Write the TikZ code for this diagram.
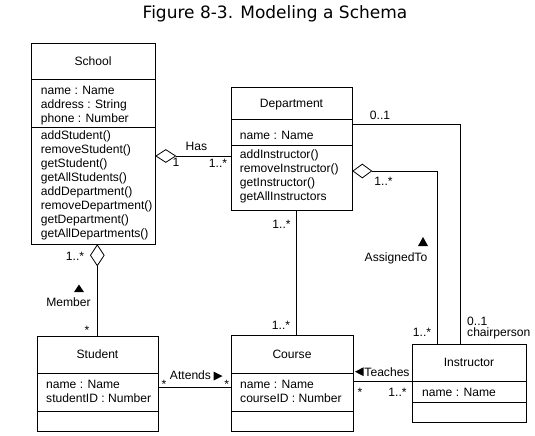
\documentclass[tikz,border=0pt]{standalone}
\usepackage{fontspec}
\setmainfont{Liberation Sans}
\newfontfamily\titlefont{DejaVu Sans}
\usetikzlibrary{shapes.geometric}
\tikzset{
  classbox/.style={draw,line width=0.8pt,inner sep=0pt},
  lbl/.style={inner sep=0pt,font=\fontsize{12.1}{14}\selectfont,text height=8.7pt,text depth=0pt},
  members/.style={inner sep=0pt,anchor=north west,align=left,font=\fontsize{12.1}{14}\selectfont},
  aggr/.style={draw,diamond,fill=white,line width=0.8pt,inner sep=0pt},
  assoc/.style={line width=0.8pt},
}
\begin{document}
\begin{tikzpicture}[x=1pt,y=-1pt]
\useasboundingbox (0,0) rectangle (535,436);
\node[anchor=base,inner sep=0pt,font=\titlefont\fontsize{17}{20}\selectfont](title)at(275,19){Figure 8-3. Modeling a Schema};
% classes
\node[classbox,minimum width=124,minimum height=201](school)at(93,143.5){};
\draw[line width=0.8pt](31,79)--(155,79) (31,127)--(155,127);
\node[lbl](schoolname)at(93,61){School};
\node[members](schoolattr)at(40.7,84.2){\strut name : Name\\address : String\\phone : Number};
\node[members](schoolops)at(40.7,129.5){\strut addStudent()\\removeStudent()\\getStudent()\\getAllStudents()\\addDepartment()\\removeDepartment()\\getDepartment()\\getAllDepartments()};
\node[classbox,minimum width=121,minimum height=123](dept)at(291.5,148.5){};
\draw[line width=0.8pt](231,119.5)--(352,119.5) (231,145)--(352,145);
\node[lbl](deptname)at(291.5,103.5){Department};
\node[members](deptattr)at(239.7,129.2){\strut name : Name};
\node[members](deptops)at(239.7,148.5){\strut addInstructor()\\removeInstructor()\\getInstructor()\\getAllInstructors};
\node[classbox,minimum width=121,minimum height=95](student)at(97.5,383.5){};
\draw[line width=0.8pt](37,373)--(158,373) (37,411)--(158,411);
\node[lbl](studentname)at(97.5,354.5){Student};
\node[members](studentattr)at(46,378.7){\strut name : Name\\studentID : Number};
\node[classbox,minimum width=122,minimum height=96](course)at(292,383){};
\draw[line width=0.8pt](231,373)--(353,373) (231,411)--(353,411);
\node[lbl](coursename)at(292,354.5){Course};
\node[members](courseattr)at(240,378.2){\strut name : Name\\courseID : Number};
\node[classbox,minimum width=114,minimum height=78](instr)at(469,383){};
\draw[line width=0.8pt](412,381)--(526,381) (412,402)--(526,402);
\node[lbl](instrname)at(469,362.5){Instructor};
\node[members](instrattr)at(422,386.5){\strut name : Name};
% associations
\node[aggr,minimum width=20,minimum height=13,anchor=west](hasdia)at(school.east|-0,156){};
\draw[assoc](hasdia.east)--(hasdia.east-|dept.west);
\node[aggr,minimum width=14,minimum height=21,anchor=north](memdia)at(school.south-|97.3,0){};
\draw[assoc](memdia.south)--(memdia.south|-student.north);
\draw[assoc](student.east|-0,387)--(course.west|-0,387);
\draw[assoc](dept.south-|296.5,0)--(course.north-|296.5,0);
\draw[assoc](course.east|-0,381)--(instr.west|-0,381);
\draw[assoc](dept.east|-0,124)-|(instr.north-|460,0);
\node[aggr,minimum width=19,minimum height=14,anchor=west](asgdia)at(dept.east|-0,171){};
\draw[assoc](asgdia.east)-|(instr.north-|437.3,0);
% labels
\node[lbl](has)at(196.5,146){Has};
\node[lbl](hasone)at(176,162.5){1};
\node[lbl](hasmany)at(218,163){1..*};
\node[lbl](chairone)at(380,115.5){0..1};
\node[lbl](asgmany)at(383.5,181){1..*};
\node[lbl](asgto)at(396,257.5){AssignedTo};
\fill(418,246)--(428,246)--(423,237)--cycle;
\node[lbl](asginstr)at(422,332){1..*};
\node[lbl,anchor=west](chairzero)at(467,321){0..1};
\node[lbl,anchor=west](chair)at(467,332.4){chairperson};
\node[lbl](deptcourse)at(281.5,224){1..*};
\node[lbl](coursedept)at(281,325){1..*};
\node[lbl](teaches)at(387,371.7){Teaches};
\fill(355,371.7)--(363.5,367.3)--(363.5,376.1)--cycle;
\node[lbl](teachstar)at(360,392.5){*};
\node[lbl](teachmany)at(397.5,391.7){1..*};
\node[lbl](attends)at(190.5,374.7){Attends};
\fill(213.5,371.5)--(222.5,376)--(213.5,380.5)--cycle;
\node[lbl](attstud)at(164,384.2){*};
\node[lbl](attcourse)at(226.7,384.2){*};
\node[lbl](member)at(68.5,302.4){Member};
\fill(74,292)--(84,292)--(79,284.5)--cycle;
\node[lbl](memmany)at(75,256){1..*};
\node[lbl](memstar)at(87,330.5){*};
\end{tikzpicture}
\end{document}
